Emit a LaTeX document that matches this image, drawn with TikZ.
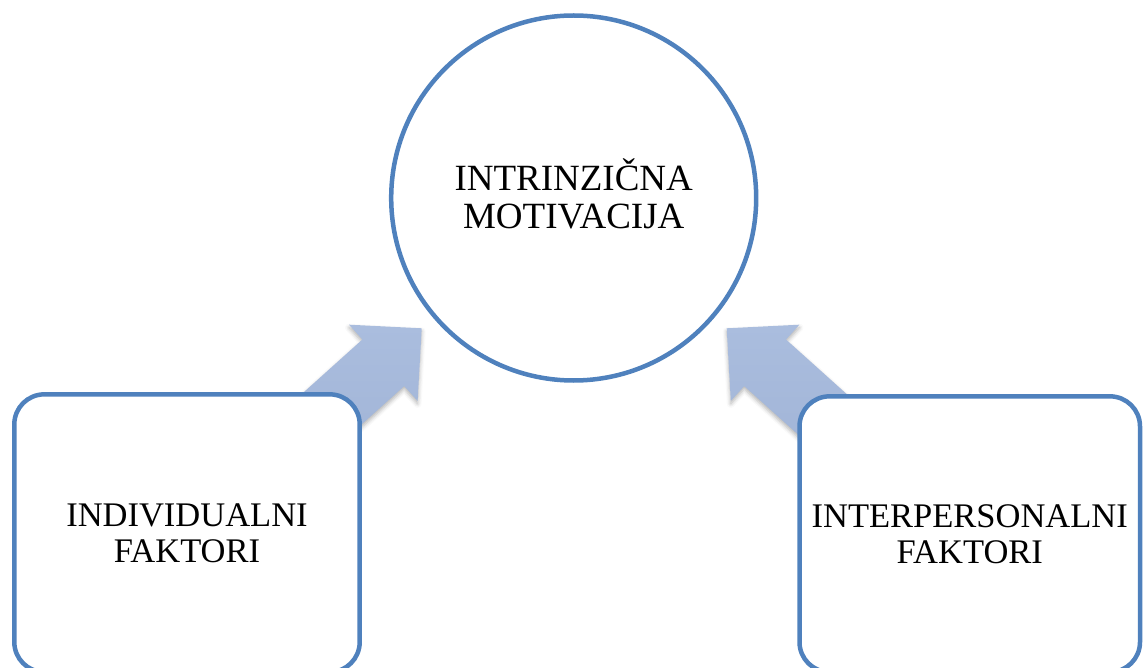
\documentclass[tikz,border=0pt]{standalone}
\usepackage{fontspec}
\setmainfont{Liberation Serif}
\usetikzlibrary{shadows.blur}
\definecolor{accent}{HTML}{4F81BD}
\definecolor{arrtop}{HTML}{AABDDE}
\definecolor{arrbot}{HTML}{9DB0D3}
\begin{document}
\begin{tikzpicture}[x=1pt,y=-1pt,
  blockarrow/.style={top color=arrtop, bottom color=arrbot, draw=none,
    blur shadow={shadow xshift=0pt, shadow yshift=-3pt, shadow blur radius=4pt, shadow opacity=30}},
  factor/.style={rectangle, rounded corners=30pt, draw=accent, fill=white, line width=4.5pt,
    inner sep=0pt, text width=330pt, align=center, font=\fontsize{34.5}{36}\selectfont},
  centre/.style={circle, draw=accent, fill=white, line width=4.5pt, minimum size=365pt,
    inner sep=0pt, text width=300pt, align=center, font=\fontsize{37}{37.6}\selectfont}]
\useasboundingbox (0,0) rectangle (1143,668);
\clip (0,0) rectangle (1143,668);
% left arrow
\coordinate (lt)  at (421.7,328.3);
\coordinate (lb1) at (349.0,324.7);
\coordinate (lb2) at (417.6,400.9);
\coordinate (ln1) at (362.4,339.5);
\coordinate (ln2) at (404.2,386.1);
\coordinate (le1) at (198.7,486.7);
\coordinate (le2) at (240.5,533.3);
% right arrow
\coordinate (rt)  at (726.7,328.3);
\coordinate (rb1) at (799.4,324.7);
\coordinate (rb2) at (730.8,400.9);
\coordinate (rn1) at (786.0,339.5);
\coordinate (rn2) at (744.2,386.1);
\coordinate (re1) at (949.7,486.7);
\coordinate (re2) at (907.9,533.3);
\path[blockarrow] (lt) -- (lb2) -- (ln2) -- (le2) -- (le1) -- (ln1) -- (lb1) -- cycle;
\path[blockarrow] (rt) -- (rb2) -- (rn2) -- (re2) -- (re1) -- (rn1) -- (rb1) -- cycle;
% circle
\node[centre, text height=23pt, text depth=37.6pt] (circ) at (573.7,198) {INTRINZIČNA\\MOTIVACIJA};
% boxes
\node[factor, minimum width=345.4pt, minimum height=277.7pt, text height=21.6pt, text depth=36pt]
  (ind) at (187,533.2) {INDIVIDUALNI\\FAKTORI};
\node[factor, minimum width=340.5pt, minimum height=275.7pt, text height=23pt, text depth=36pt]
  (inter) at (969.75,534.2) {INTERPERSONALNI\\FAKTORI};
\end{tikzpicture}
\end{document}
